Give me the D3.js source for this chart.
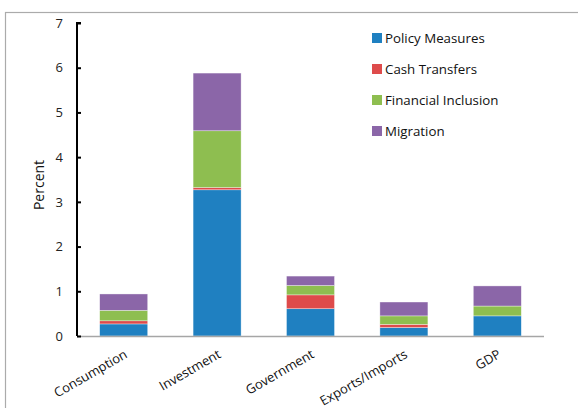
<!DOCTYPE html>
<html><head><meta charset="utf-8">
<script src="https://cdn.jsdelivr.net/npm/d3@7"></script>
<style>body{margin:0;background:#fff}svg{display:block;font-family:"Open Sans",sans-serif}</style>
</head><body><svg id="c" width="578" height="408"></svg>
<script>
const categories = ["Consumption","Investment","Government","Exports/Imports","GDP"];
const seriesNames = ["Policy Measures","Cash Transfers","Financial Inclusion","Migration"];
const policyMeasures = [0.27, 3.27, 0.61, 0.19, 0.45];
const cashTransfers = [0.07, 0.05, 0.31, 0.07, 0.0];
const financialInclusion = [0.235, 1.27, 0.21, 0.19, 0.22];
const migration = [0.365, 1.29, 0.21, 0.31, 0.45];
const yTicks = [0,1,2,3,4,5,6,7];
const colors = ["#1F80C1","#DE4B4B","#8EBE50","#8B66A8"];

const svg = d3.select("#c");
svg.append("rect").attr("x",5.5).attr("y",12.5).attr("width",600).attr("height",420)
  .attr("fill","none").attr("stroke","#ababab").attr("stroke-width",1.2);

const m = {l:77, r:544, t:23, b:336};
const x = d3.scaleBand().domain(categories).range([m.l,m.r]).paddingInner(0.486).paddingOuter(0.243);
const y = d3.scaleLinear().domain([0,7]).range([m.b,m.t]);

const rows = categories.map((c,i)=>({cat:c, "Policy Measures":policyMeasures[i], "Cash Transfers":cashTransfers[i], "Financial Inclusion":financialInclusion[i], "Migration":migration[i]}));
const stack = d3.stack().keys(seriesNames)(rows);

svg.append("g").selectAll("g").data(stack).join("g").attr("fill",(d,i)=>colors[i])
  .selectAll("rect").data(d=>d).join("rect")
  .attr("x",d=>x(d.data.cat)).attr("width",x.bandwidth())
  .attr("y",d=>y(d[1])).attr("height",d=>Math.max(0,y(d[0])-y(d[1])))
  .attr("stroke","#fff").attr("stroke-opacity",0.6).attr("stroke-width",0.6);

// x axis line
svg.append("line").attr("x1",m.l).attr("x2",m.r).attr("y1",m.b+0.5).attr("y2",m.b+0.5)
  .attr("stroke","#a6a6a6").attr("stroke-width",1.5);

// y axis
const ya = svg.append("g").attr("transform",`translate(${m.l},0)`)
  .call(d3.axisRight(y).tickValues(yTicks).tickSize(4).tickFormat(d3.format("d")));
ya.select(".domain").attr("stroke","#000").attr("stroke-width",2).attr("d",`M4,${m.t}H0V${m.b}`);
ya.selectAll(".tick line").attr("stroke","#000").attr("stroke-width",2);
ya.selectAll(".tick text").attr("x",-14).attr("text-anchor","end").attr("font-size",13)
  .attr("font-family","'Open Sans',sans-serif").attr("fill","#222");

// y label
svg.append("text").attr("transform","translate(44,185) rotate(-90)").attr("text-anchor","middle")
  .attr("font-size",14).attr("fill","#111").text("Percent");

// x labels
svg.append("g").selectAll("text").data(categories).join("text")
  .attr("transform",d=>`translate(${x(d)+x.bandwidth()/2},349) rotate(-30)`)
  .attr("text-anchor","end").attr("dy","0.7em").attr("font-size",13).attr("fill","#111").text(d=>d);

// legend
const lg = svg.append("g").selectAll("g").data(seriesNames).join("g")
  .attr("transform",(d,i)=>`translate(372,${33+i*31})`);
lg.append("rect").attr("width",10).attr("height",10).attr("fill",(d,i)=>colors[i]);
lg.append("text").attr("x",13).attr("y",5).attr("dy","0.35em").attr("font-size",13.3).attr("fill","#111").text(d=>d);
</script></body></html>
